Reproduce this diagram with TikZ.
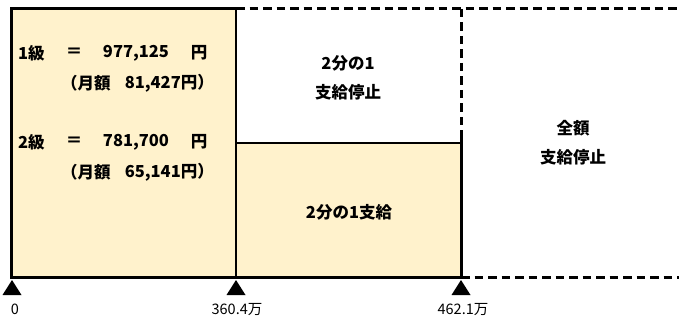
\documentclass[tikz,border=0pt]{standalone}
\usepackage{fontspec}
\newfontfamily\cjk{Noto Sans CJK JP}
\definecolor{cream}{HTML}{FFF2CC}
\tikzset{
  txt/.style={inner sep=0pt, font=\cjk\bfseries\fontsize{16.5}{19}\selectfont},
  lbl/.style={inner sep=0pt, font=\cjk\fontsize{14.5}{17}\selectfont},
  solidline/.style={line width=3pt},
  innerline/.style={line width=2.2pt},
  dashline/.style={line width=3pt, dash pattern=on 8.5pt off 5pt},
  tri/.style={fill=black, draw=none}
}
\begin{document}
\begin{tikzpicture}[x=1pt,y=-1pt]
\useasboundingbox (0,0) rectangle (679,320);
% fills
\fill[cream] (11,9) rectangle (236,277);
\fill[cream] (236,143) rectangle (461,277);
% named corner coordinates
\coordinate (tl) at (11,9);
\coordinate (bl) at (11,277);
\coordinate (tm) at (236,9);
\coordinate (mm) at (236,143);
\coordinate (bm) at (236,277);
\coordinate (tr) at (461,9);
\coordinate (mr) at (461,143);
\coordinate (sr) at (461,131);
\coordinate (br) at (461,277);
\coordinate (te) at (679,9);
\coordinate (be) at (679,277);
% solid lines
\draw[solidline, line join=miter] (tm) -- (tl) -- (bl) -- (br) -- (sr);
\draw[innerline] (tm) -- (bm);
\draw[innerline] (mm) -- (mr);
% dashed lines
\draw[dashline] (tm) -- (te);
\draw[dashline] (tr) -- (sr);
\draw[dashline] (br) -- (be);
% triangles
\foreach \n/\x in {a/12, b/236, c/461}{
  \fill[tri] (\x,280) -- (\x-9.5,295) -- (\x+9.5,295) -- cycle;
}
% axis labels
\node[lbl] (l0) at (15,309) {0};
\node[lbl] (l1) at (237,310) {360.4万};
\node[lbl] (l2) at (463,310) {462.1万};
% left texts
\node[txt, anchor=west] (g1) at (18,53) {1級};
\node[txt] (e1) at (74,53) {＝};
\node[txt] (v1) at (136,53) {977,125};
\node[txt] (y1) at (199,53) {円};
\node[txt, anchor=west] (m1a) at (61,83) {（月額};
\node[txt, anchor=east] (m1b) at (214,83) {81,427円）};
\node[txt, anchor=west] (g2) at (18,142) {2級};
\node[txt] (e2) at (74,142) {＝};
\node[txt] (v2) at (136,142) {781,700};
\node[txt] (y2) at (199,142) {円};
\node[txt, anchor=west] (m2a) at (61,172) {（月額};
\node[txt, anchor=east] (m2b) at (214,172) {65,141円）};
% middle texts
\node[txt] (h1) at (348,63) {2分の1};
\node[txt] (h2) at (348,92) {支給停止};
\node[txt] (h3) at (349,212) {2分の1支給};
% right texts
\node[txt] (f1) at (573,128) {全額};
\node[txt] (f2) at (573,157) {支給停止};
\end{tikzpicture}
\end{document}
